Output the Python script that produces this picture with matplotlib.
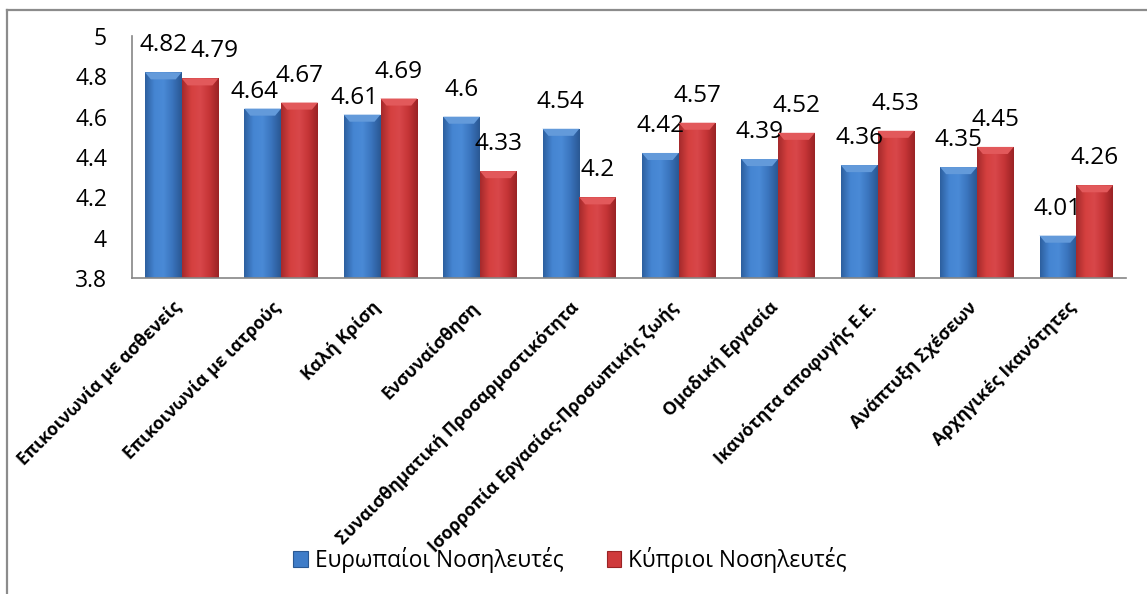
import matplotlib
matplotlib.use("Agg")
import matplotlib.pyplot as plt
import numpy as np
from matplotlib.colors import LinearSegmentedColormap
from matplotlib.lines import Line2D
from matplotlib.patches import Polygon

plt.rcParams['font.family'] = ['Open Sans', 'DejaVu Sans']

categories = [
    "Επικοινωνία με ασθενείς",
    "Επικοινωνία με ιατρούς",
    "Καλή Κρίση",
    "Ενσυναίσθηση",
    "Συναισθηματική Προσαρμοστικότητα",
    "Ισορροπία Εργασίας-Προσωπικής ζωής",
    "Ομαδική Εργασία",
    "Ικανότητα αποφυγής Ε.Ε.",
    "Ανάπτυξη Σχέσεων",
    "Αρχηγικές Ικανότητες",
]
european = [4.82, 4.64, 4.61, 4.6, 4.54, 4.42, 4.39, 4.36, 4.35, 4.01]
cypriot = [4.79, 4.67, 4.69, 4.33, 4.2, 4.57, 4.52, 4.53, 4.45, 4.26]
series_names = ["Ευρωπαίοι Νοσηλευτές", "Κύπριοι Νοσηλευτές"]

W, H = 1147, 594
fig = plt.figure(figsize=(W / 100, H / 100), dpi=100)
ax = fig.add_axes([132 / W, 1 - 278 / H, (1126 - 132) / W, (278 - 36) / H])

# chart frame (only the left and top edges show)
fig.add_artist(Line2D([7 / W, 7 / W], [0, 1 - 10 / H], transform=fig.transFigure,
                      color="#8c8c8c", lw=1.6))
fig.add_artist(Line2D([7 / W, 1], [1 - 10 / H, 1 - 10 / H], transform=fig.transFigure,
                      color="#8c8c8c", lw=1.6))

x = np.arange(len(categories))
bw = 0.37

blue_cmap = LinearSegmentedColormap.from_list("b", ["#2d5f9f", "#4585d2", "#4a8ad6", "#3a74bd", "#2a5893"])
red_cmap = LinearSegmentedColormap.from_list("r", ["#a52a2c", "#d5403f", "#d8474a", "#c53436", "#9a2325"])

bars_b = ax.bar(x - bw / 2, european, bw, bottom=0, color="#3f7cc8", edgecolor="none", zorder=2)
bars_r = ax.bar(x + bw / 2, cypriot, bw, bottom=0, color="#cf3a3c", edgecolor="none", zorder=2)

ax.set_xlim(-0.5, len(categories) - 0.5)
ax.set_ylim(3.8, 5.0)

# shaded bar bodies with a lighter bevel along the top edge
grad = np.linspace(0, 1, 64).reshape(1, -1)
bevel_x, bevel_y = 0.06, 0.035
for bars, cmap, light in ((bars_b, blue_cmap, "#639ada"), (bars_r, red_cmap, "#e2595b")):
    for b in bars:
        x0, w, h = b.get_x(), b.get_width(), b.get_height()
        im = ax.imshow(grad, cmap=cmap, extent=(x0, x0 + w, 3.8, h), aspect="auto",
                       zorder=3, interpolation="bicubic")
        im.set_clip_path(b)
        ax.add_patch(Polygon([(x0, h), (x0 + w, h), (x0 + w - bevel_x, h - bevel_y),
                              (x0 + bevel_x, h - bevel_y)], closed=True,
                             facecolor=light, edgecolor="none", zorder=4))

ax.set_yticks([3.8, 4.0, 4.2, 4.4, 4.6, 4.8, 5.0])
ax.set_yticklabels(["3.8", "4", "4.2", "4.4", "4.6", "4.8", "5"])
ax.tick_params(axis="y", length=0, pad=18, labelsize=16.5)
ax.tick_params(axis="x", length=0)

for side in ("top", "right"):
    ax.spines[side].set_visible(False)
for side in ("left", "bottom"):
    ax.spines[side].set_color("#868686")
    ax.spines[side].set_linewidth(1.2)
    ax.spines[side].set_zorder(5)

ax.set_xticks(x)
ax.set_xticklabels([])
for xi, name in zip(x, categories):
    ax.annotate(name, xy=(xi, 3.8), xycoords="data", xytext=(-3, -27), textcoords="offset pixels",
                rotation=45, rotation_mode="anchor", ha="right", va="center",
                fontsize=12.7, fontweight="bold", annotation_clip=False)

# value labels above each bar; when a pair is close the lower label is nudged aside
for xi, vb, vr in zip(x, european, cypriot):
    db = dr = (0, 27)
    if abs(vb - vr) < 0.1:
        if vb < vr:
            db = (-8, 17)
        else:
            dr = (14, 27)
    ax.annotate(f"{vb:g}", xy=(xi - bw / 2, vb), xytext=db, textcoords="offset pixels",
                ha="center", va="center", fontsize=17.5)
    ax.annotate(f"{vr:g}", xy=(xi + bw / 2, vr), xytext=dr, textcoords="offset pixels",
                ha="center", va="center", fontsize=17.5)

handles = [plt.Rectangle((0, 0), 1, 1, facecolor="#3f7cc8", edgecolor="#2a5893", lw=0.8),
           plt.Rectangle((0, 0), 1, 1, facecolor="#cf3a3c", edgecolor="#9a2325", lw=0.8)]
fig.legend(handles, series_names, loc="center", bbox_to_anchor=(570 / W, 1 - 560 / H),
           ncol=2, frameon=False, fontsize=16.3, handlelength=0.65, handleheight=0.65,
           handletextpad=0.3, columnspacing=1.9)

fig.savefig("out.png", dpi=100)
